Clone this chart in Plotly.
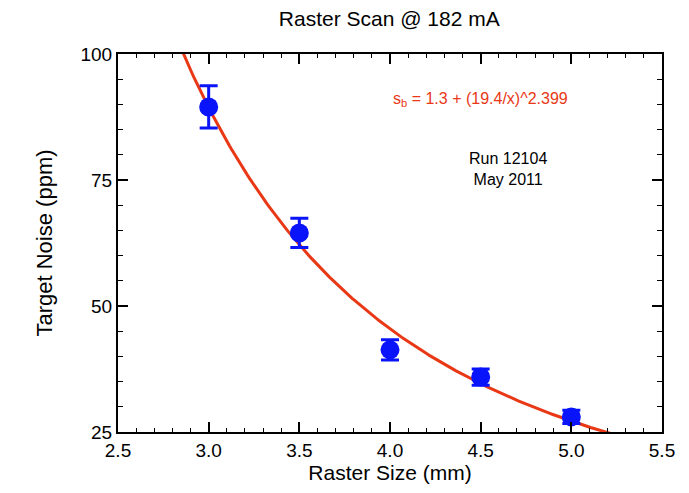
import numpy as np
import plotly.graph_objects as go

# Measured target noise vs raster size
raster_mm = [3.0, 3.5, 4.0, 4.5, 5.0]
noise_ppm = [89.5, 64.5, 41.3, 35.9, 28.0]
noise_err = [4.2, 2.9, 2.0, 1.6, 1.3]

# Fit: s_b = A + (B/x)^C
fit_a, fit_b, fit_c = 1.3, 19.4, 2.399
fit_x = np.linspace(2.7, 5.4, 300)
fit_y = fit_a + (fit_b / fit_x) ** fit_c

x_ticks = [2.5, 3.0, 3.5, 4.0, 4.5, 5.0, 5.5]
y_ticks = [25, 50, 75, 100]

FONT = "Liberation Sans, Arial, sans-serif"
RED = "rgb(232,56,22)"
BLUE = "rgb(10,20,250)"

fig = go.Figure()
fig.add_trace(go.Scatter(
    x=fit_x, y=fit_y, mode="lines",
    line=dict(color=RED, width=3), showlegend=False, hoverinfo="skip",
))
fig.add_trace(go.Scatter(
    x=raster_mm, y=noise_ppm, mode="markers",
    marker=dict(color=BLUE, size=19, symbol="circle"),
    error_y=dict(type="data", array=noise_err, color=BLUE, thickness=3, width=9),
    showlegend=False,
))

axis_common = dict(
    showline=True, linecolor="black", linewidth=2, mirror="allticks",
    ticks="inside", ticklen=10, tickwidth=1.5, tickcolor="black",
    showgrid=False, zeroline=False,
    tickfont=dict(family=FONT, size=19, color="black"),
)

fig.update_xaxes(
    range=[2.5, 5.5], tickvals=x_ticks, ticktext=[f"{v:.1f}" for v in x_ticks],
    minor=dict(ticks="inside", dtick=0.1, ticklen=4, tickcolor="black", tickwidth=1.2),
    title=dict(text="Raster Size (mm)", font=dict(family=FONT, size=21, color="black"), standoff=0),
    **axis_common,
)
fig.update_yaxes(
    range=[25, 100], tickvals=y_ticks, ticktext=[str(v) for v in y_ticks],
    minor=dict(ticks="inside", dtick=5, ticklen=5, tickcolor="black", tickwidth=1.2),
    title=dict(text="Target Noise (ppm)", font=dict(family=FONT, size=22, color="black"), standoff=22),
    **axis_common,
)

fig.add_annotation(
    x=4.5, y=90.9, xref="x", yref="y", showarrow=False,
    text="s<sub>b</sub> = 1.3 + (19.4/x)^2.399",
    font=dict(family=FONT, size=16, color=RED),
)
fig.add_annotation(
    x=4.65, y=77.2, xref="x", yref="y", showarrow=False,
    text="Run 12104<br>May 2011",
    font=dict(family=FONT, size=16, color="black"),
)

fig.update_layout(
    width=689, height=493,
    margin=dict(l=118, r=27, t=54, b=61),
    paper_bgcolor="white", plot_bgcolor="white",
    title=dict(text="Raster Scan @ 182 mA", x=0.565, xanchor="center",
               y=0.962, yanchor="middle", yref="container",
               font=dict(family=FONT, size=21, color="black")),
)

fig.write_html("out.html")
